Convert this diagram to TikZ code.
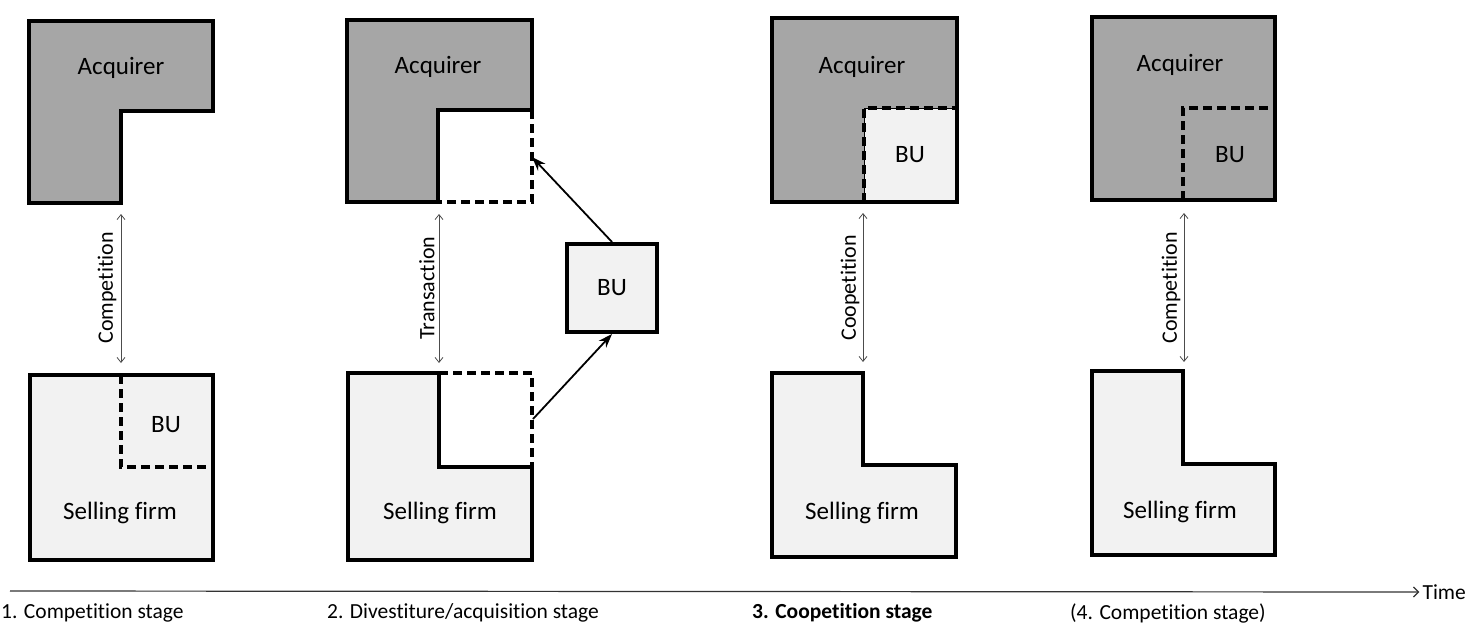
\documentclass[tikz,border=0pt]{standalone}
\usepackage{fontspec}
\setmainfont{Carlito}[Ligatures=NoCommon]
\usetikzlibrary{arrows.meta}
\definecolor{acqgray}{HTML}{A6A6A6}
\definecolor{sellgray}{HTML}{F2F2F2}
\begin{document}
\begin{tikzpicture}[x=1pt,y=-1pt,
  outline/.style={line width=4pt,line join=miter},
  dashedge/.style={line width=4pt,dash pattern=on 9pt off 5pt},
  acqfill/.style={fill=acqgray},
  sellfill/.style={fill=sellgray},
  boxlabel/.style={font=\fontsize{25}{30}\selectfont,inner sep=0pt},
  relarrow/.style={draw=black!70,line width=0.8pt,{Straight Barb[length=5pt,width=8pt]}-{Straight Barb[length=5pt,width=8pt]}},
  rellabel/.style={font=\fontsize{22}{26}\selectfont,rotate=90,inner sep=0pt},
  moveto/.style={line width=1.8pt,-{Stealth[length=14pt,width=10pt]}},
  stagelabel/.style={font=\fontsize{21.5}{26}\selectfont,anchor=west,inner sep=0pt}]
\useasboundingbox (0,0) rectangle (1466,627);

% ---------- Panel 1 ----------
\draw[outline,acqfill] (29,21) -- (213,21) -- (213,111) -- (121,111) -- (121,203) -- (29,203) -- cycle;
\node[boxlabel] (acq1) at (121,68) {Acquirer};
\draw[outline,sellfill] (30,375) rectangle (213,560);
\draw[dashedge] (121,375) -- (121,467) -- (213,467);
\node[boxlabel] (bu1) at (166,425) {BU};
\node[boxlabel] (sell1) at (120,513) {Selling firm};
\coordinate (a1t) at (121,214);
\coordinate (a1b) at (121,363);
\draw[relarrow] (a1t) -- (a1b);
\node[rellabel] (rel1) at (107,288) {Competition};

% ---------- Panel 2 ----------
\draw[outline,acqfill] (347,20) -- (532,20) -- (532,110) -- (438,110) -- (438,202) -- (347,202) -- cycle;
\draw[dashedge] (532,110) -- (532,202) -- (438,202);
\node[boxlabel] (acq2) at (438,67) {Acquirer};
\draw[outline,sellfill] (348,373) -- (439,373) -- (439,467) -- (532,467) -- (532,560) -- (348,560) -- cycle;
\draw[dashedge] (439,373) -- (532,373) -- (532,467);
\node[boxlabel] (sell2) at (440,513) {Selling firm};
\coordinate (a2t) at (439,214);
\coordinate (a2b) at (439,363);
\draw[relarrow] (a2t) -- (a2b);
\node[rellabel] (rel2) at (427,288) {Transaction};
\node[outline,draw,sellfill,boxlabel,minimum width=90pt,minimum height=88pt] (bu2) at (612,288) {BU};
\coordinate (sellslot) at (533,419);
\coordinate (acqslot) at (532,157);
\draw[moveto] (sellslot) -- (bu2.south);
\draw[moveto] (bu2.north) -- (acqslot);

% ---------- Panel 3 ----------
\draw[outline,acqfill] (772,18) rectangle (957,202);
\draw[sellfill] (864,108) rectangle (957,202);
\draw[outline] (772,18) rectangle (957,202);
\draw[dashedge] (864,202) -- (864,108) -- (957,108);
\node[boxlabel] (acq3) at (862,67) {Acquirer};
\node[boxlabel] (bu3) at (910,155) {BU};
\draw[outline,sellfill] (772,373) -- (863,373) -- (863,465) -- (956,465) -- (956,557) -- (772,557) -- cycle;
\node[boxlabel] (sell3) at (862,513) {Selling firm};
\coordinate (a3t) at (863,213);
\coordinate (a3b) at (863,362);
\draw[relarrow] (a3t) -- (a3b);
\node[rellabel] (rel3) at (850,288) {Coopetition};

% ---------- Panel 4 ----------
\draw[outline,acqfill] (1092,17) rectangle (1275,200);
\draw[dashedge] (1183,200) -- (1183,108) -- (1275,108);
\node[boxlabel] (acq4) at (1180,65) {Acquirer};
\node[boxlabel] (bu4) at (1230,155) {BU};
\draw[outline,sellfill] (1092,371) -- (1183,371) -- (1183,464) -- (1275,464) -- (1275,555) -- (1092,555) -- cycle;
\node[boxlabel] (sell4) at (1180,512) {Selling firm};
\coordinate (a4t) at (1184,213);
\coordinate (a4b) at (1184,362);
\draw[relarrow] (a4t) -- (a4b);
\node[rellabel] (rel4) at (1171,288) {Competition};

% ---------- Time axis ----------
\coordinate (tstart) at (10,591);
\node[font=\fontsize{21.5}{26}\selectfont,anchor=east,inner sep=0pt] (time) at (1466,592) {Time};
\draw[draw=black!80,line width=1.2pt,-{Straight Barb[length=5pt,width=10pt]}] (tstart) -- ([xshift=-3pt]time.west);

\node[stagelabel] (s1) at (1,613) {1. Competition stage};
\node[stagelabel] (s2) at (327,613) {2. Divestiture/acquisition stage};
\node[stagelabel,font=\fontsize{21.5}{26}\selectfont\bfseries] (s3) at (752,613) {3. Coopetition stage};
\node[stagelabel] (s4) at (1070,613) {(4. Competition stage)};
\end{tikzpicture}
\end{document}
